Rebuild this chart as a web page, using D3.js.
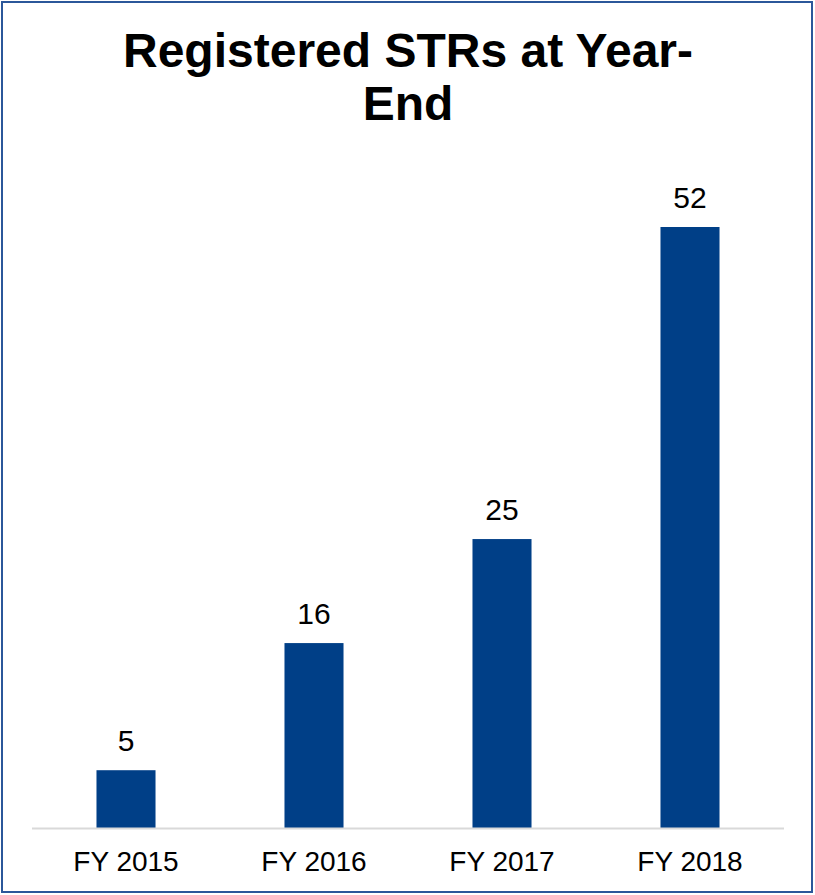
<!DOCTYPE html>
<html>
<meta charset="utf-8">
<title>Registered STRs at Year-End</title>
<script src="https://d3js.org/d3.v7.min.js"></script>
<style>
body { margin: 0; background: #fff; }
text { font-family: "Liberation Sans", Arial, sans-serif; fill: #000; }
.title { font-weight: bold; font-size: 48px; }
.axis path, .axis line { display: none; }
.axis text { font-size: 28px; }
.label { font-size: 30px; }
</style>
<body>
  <svg width="815" height="895"></svg>
  <script>
  var years = ["FY 2015", "FY 2016", "FY 2017", "FY 2018"];
  var strCounts = [5, 16, 25, 52];
  var titleLines = ["Registered STRs at Year-", "End"];

  var svg = d3.select("svg");

  // outer frame
  svg.append("rect")
    .attr("x", 2).attr("y", 2)
    .attr("width", 810).attr("height", 890)
    .attr("fill", "none")
    .attr("stroke", "#2b579a")
    .attr("stroke-width", 2);

  svg.append("text")
    .attr("class", "title")
    .attr("text-anchor", "middle")
    .selectAll("tspan")
    .data(titleLines)
    .enter().append("tspan")
    .attr("x", 408)
    .attr("y", function(d, i) { return 67 + i * 53; })
    .text(function(d) { return d; });

  var left = 32, right = 784, baseY = 828;

  var x = d3.scaleBand().domain(years).range([left, right]).paddingInner(0.686).paddingOuter(0.343);
  var y = d3.scaleLinear().domain([0, 52]).range([baseY, 227]);

  svg.selectAll(".bar")
    .data(strCounts)
    .enter().append("rect")
    .attr("class", "bar")
    .attr("x", function(d, i) { return x(years[i]); })
    .attr("y", function(d) { return y(d); })
    .attr("width", x.bandwidth())
    .attr("height", function(d) { return baseY - y(d); })
    .attr("fill", "#003f87");

  svg.append("line")
    .attr("x1", left).attr("x2", right)
    .attr("y1", baseY + 0.5).attr("y2", baseY + 0.5)
    .attr("stroke", "#d9d9d9")
    .attr("stroke-width", 2);

  svg.selectAll(".label")
    .data(strCounts)
    .enter().append("text")
    .attr("class", "label")
    .attr("text-anchor", "middle")
    .attr("x", function(d, i) { return x(years[i]) + x.bandwidth() / 2; })
    .attr("y", function(d) { return y(d) - 19; })
    .text(function(d) { return d; });

  svg.append("g")
    .attr("class", "axis")
    .attr("transform", "translate(0," + baseY + ")")
    .call(d3.axisBottom(x).tickSize(0).tickPadding(0))
    .selectAll("text")
    .attr("dy", null)
    .attr("y", 43);
  </script>
</body>
</html>
